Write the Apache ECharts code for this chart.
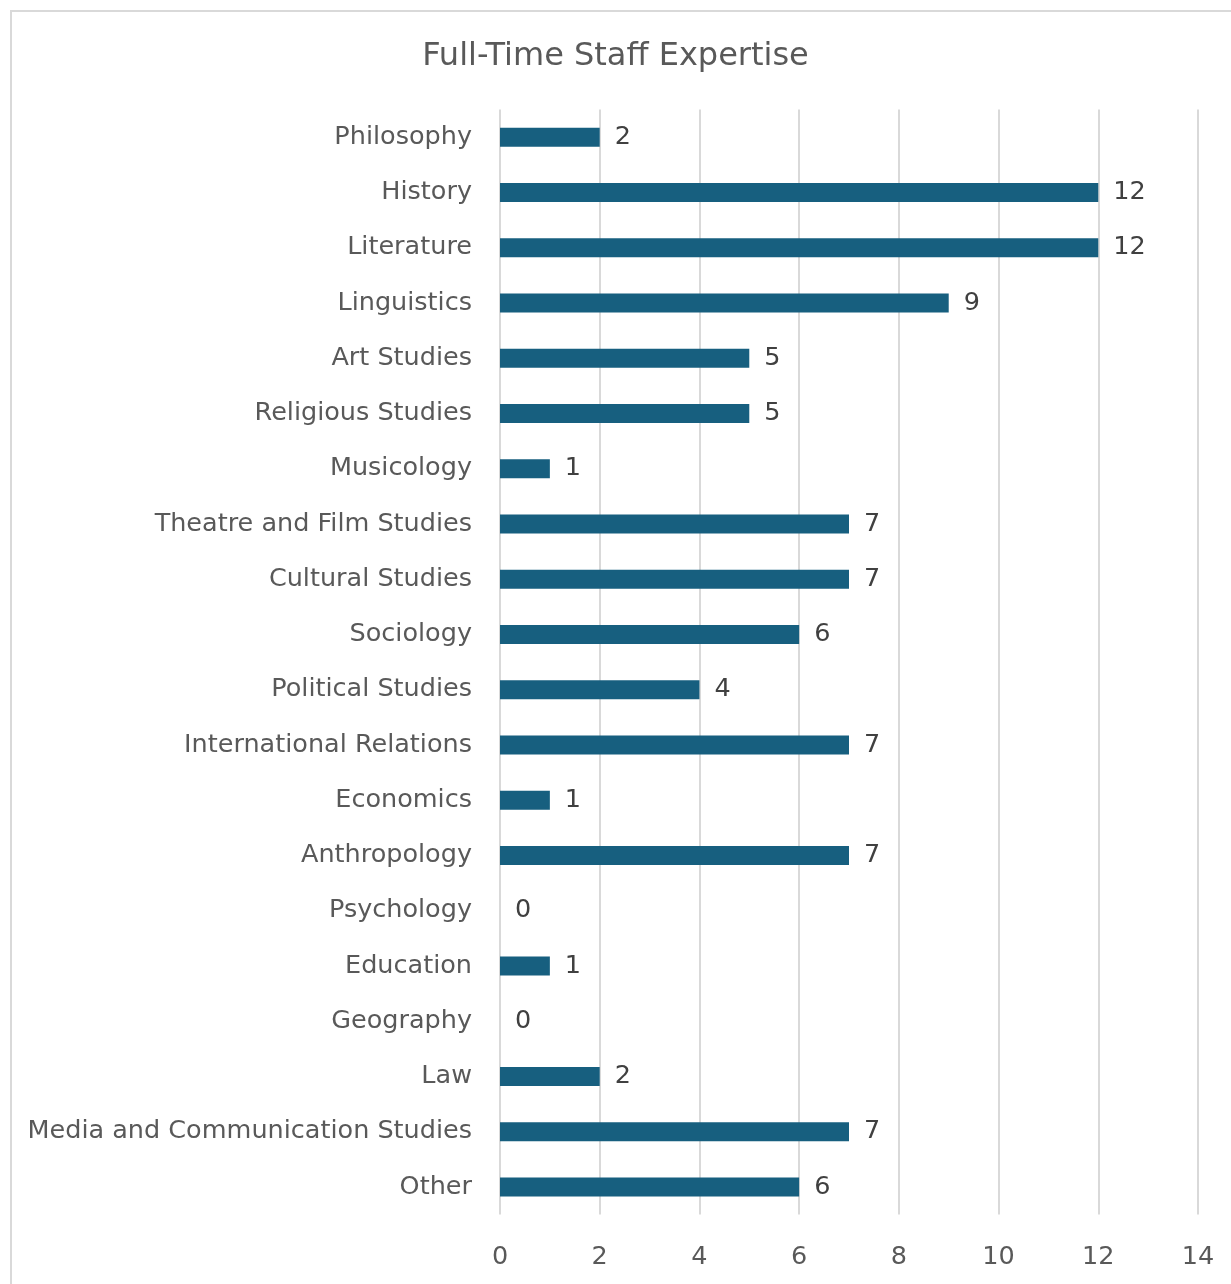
<!DOCTYPE html>
<html><head><meta charset="utf-8">
<script src="https://cdn.jsdelivr.net/npm/echarts@6/dist/echarts.min.js"></script>
<style>html,body{margin:0;padding:0;background:#fff}#c{width:1231px;height:1284px}</style>
</head><body><div id="c"></div>
<script>
const categories = ["Philosophy","History","Literature","Linguistics","Art Studies","Religious Studies","Musicology","Theatre and Film Studies","Cultural Studies","Sociology","Political Studies","International Relations","Economics","Anthropology","Psychology","Education","Geography","Law","Media and Communication Studies","Other"];
const values = [2,12,12,9,5,5,1,7,7,6,4,7,1,7,0,1,0,2,7,6];
const chartTitle = "Full-Time Staff Expertise";
const FONT = "'DejaVu Sans', sans-serif";
const chart = echarts.init(document.getElementById('c'));
chart.setOption({
  animation:false,
  backgroundColor:'#fff',
  title:{text:chartTitle,left:'center',top:36,textStyle:{fontFamily:FONT,fontSize:32,fontWeight:'normal',color:'#595959'}},
  graphic:[{type:'rect',shape:{x:11,y:11,width:1260,height:1320},style:{fill:'none',stroke:'#d9d9d9',lineWidth:2},silent:true}],
  grid:{left:500,right:33,top:109.5,bottom:69.5,containLabel:false},
  xAxis:{type:'value',min:0,max:14,interval:2,
    axisLine:{show:false},axisTick:{show:false},
    splitLine:{show:true,lineStyle:{color:'#d9d9d9',width:2}},
    axisLabel:{margin:30,fontFamily:FONT,fontSize:25.5,color:'#595959'}},
  yAxis:{type:'category',data:categories,inverse:true,
    axisLine:{show:false},axisTick:{show:false},
    axisLabel:{margin:28,fontFamily:FONT,fontSize:25.5,color:'#595959',padding:[4,0,0,0]}},
  series:[{type:'bar',data:values,barWidth:19,
    itemStyle:{color:'#175f7f'},
    label:{show:true,position:'right',distance:15,fontFamily:FONT,fontSize:25.5,color:'#404040',padding:[5,0,0,0]}}]
});
</script></body></html>
